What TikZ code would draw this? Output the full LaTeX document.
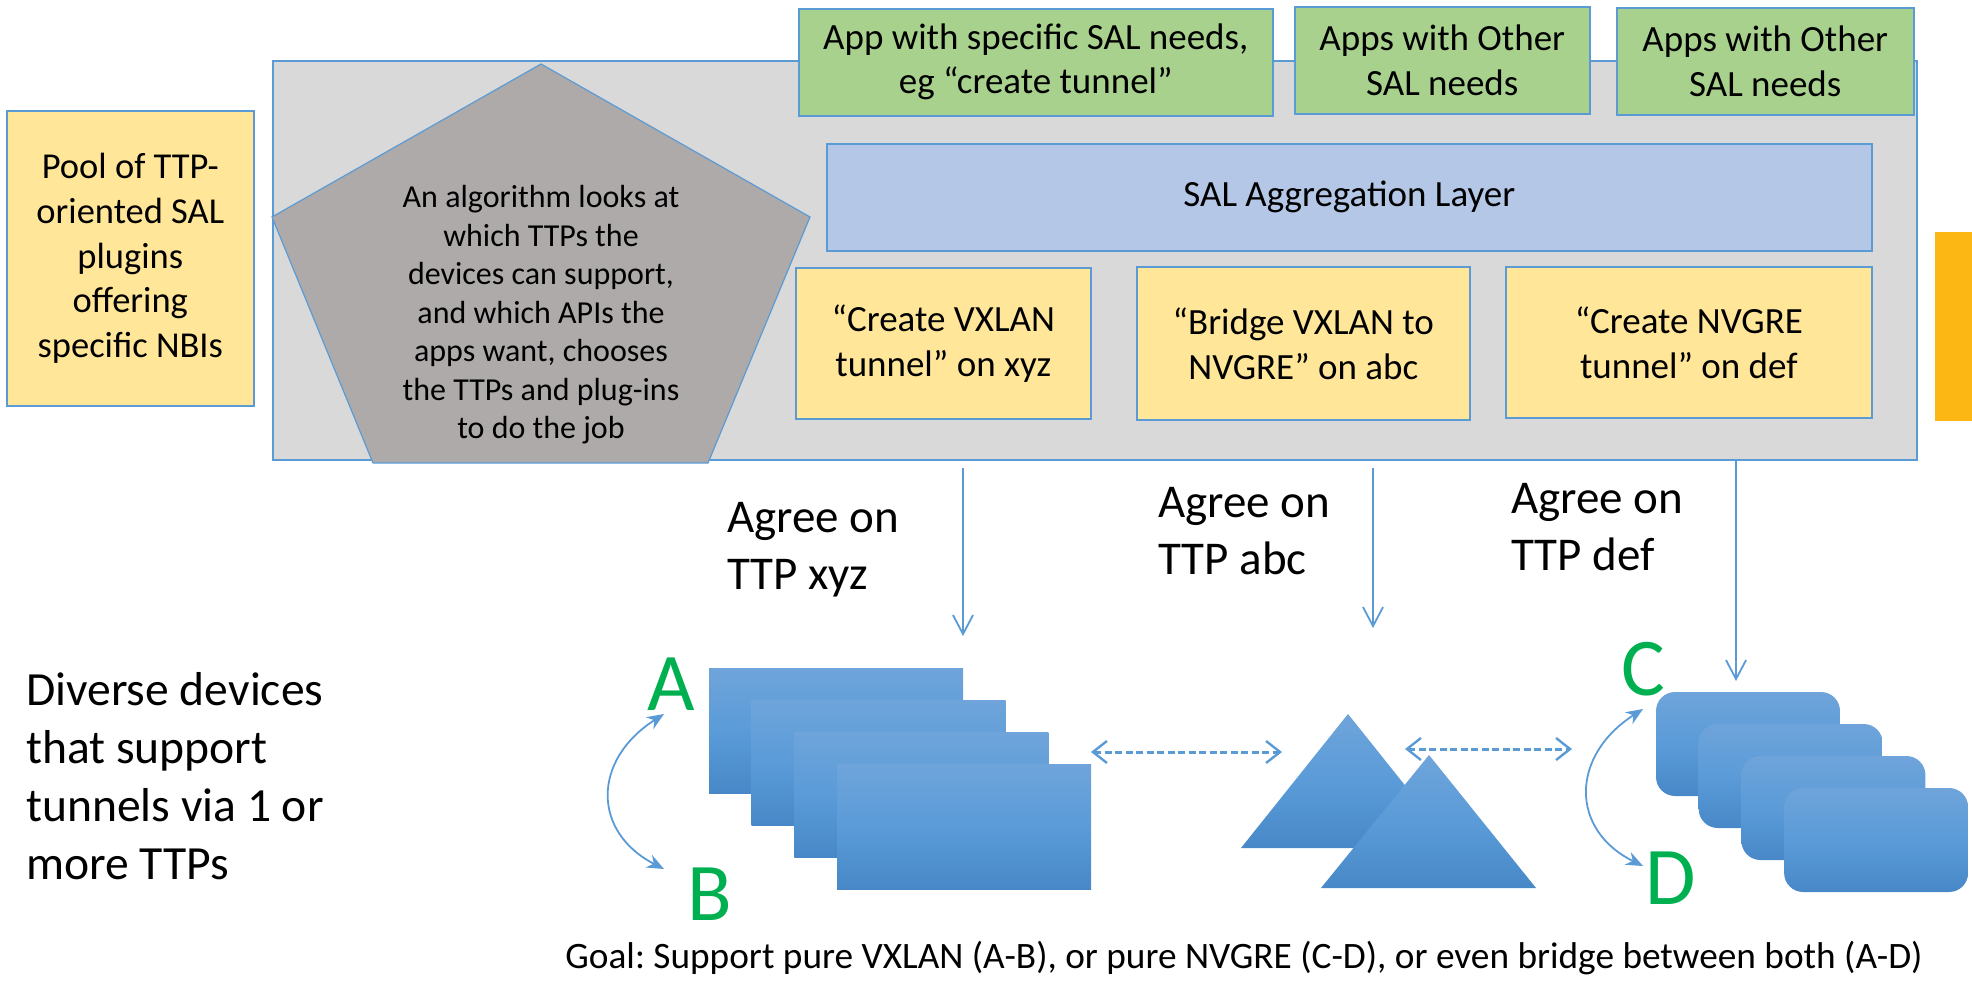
\documentclass[tikz,border=0pt]{standalone}
\usepackage{fontspec}
\setmainfont{Carlito}
\usetikzlibrary{arrows.meta}
\definecolor{edge}{HTML}{5B9BD5}
\definecolor{panel}{HTML}{D9D9D9}
\definecolor{penta}{HTML}{AEAAAA}
\definecolor{appgreen}{HTML}{A9D18E}
\definecolor{layerblue}{HTML}{B4C7E7}
\definecolor{pluginyellow}{HTML}{FFE699}
\definecolor{barorange}{HTML}{FDB714}
\definecolor{devtop}{HTML}{6FA4DA}
\definecolor{devmid}{HTML}{5A9BD8}
\definecolor{devbot}{HTML}{4888C8}
\definecolor{lettergreen}{HTML}{00B050}
\newcommand\setfs[2]{\fontsize{#1}{#2}\selectfont}
\begin{document}
\frenchspacing
\begin{tikzpicture}[x=1pt,y=-1pt,
  box/.style={draw=edge, line width=1.6pt, align=center, inner sep=0pt, anchor=north west},
  txt/.style={align=center, inner sep=0pt},
  device/.style={top color=devtop, bottom color=devbot, middle color=devmid, draw=none},
  drop/.style={draw=edge, line width=1.8pt, -{Straight Barb[length=19pt,width=20pt,line width=1.8pt]}},
  link/.style={draw=edge, line width=3pt, dash pattern=on 7pt off 3.5pt,
    {Straight Barb[length=14pt,width=22pt,line width=2.4pt]}-{Straight Barb[length=14pt,width=22pt,line width=2.4pt]}},
  swap/.style={draw=edge, line width=1.8pt, {Stealth[length=17pt,width=14pt]}-{Stealth[length=17pt,width=14pt]}},
  letter/.style={inner sep=0pt, text=lettergreen, font=\setfs{82}{90}},
  agree/.style={align=left, inner sep=0pt, anchor=west, font=\setfs{47}{57}}]
\useasboundingbox (0,0) rectangle (1972,981);

% controller panel
\node[box, fill=panel, minimum width=1644pt, minimum height=399pt] (panel) at (272,60) {};

% plugin pool on the left
\node[box, fill=pluginyellow, minimum width=247pt, minimum height=295pt, font=\setfs{36.5}{44.75}] (pool) at (6,110)
  {Pool of TTP-\\oriented SAL\\plugins\\offering\\specific NBIs};

% selection algorithm
\path[draw=edge, line width=1.2pt, fill=penta] (541,64) -- (810,217) -- (708,463) -- (373,463) -- (272,217) -- cycle;
\node[txt, font=\setfs{32}{38.5}] (algo) at (541,315)
  {An algorithm looks at\\which TTPs the\\devices can support,\\and which APIs the\\apps want, chooses\\the TTPs and plug-ins\\to do the job};

% applications
\node[box, fill=appgreen, minimum width=474pt, minimum height=107pt, font=\setfs{37}{44}] (app1) at (798,8)
  {App with specific SAL needs,\\eg “create tunnel”};
\node[box, fill=appgreen, minimum width=295pt, minimum height=107pt, font=\setfs{37}{45}] (app2) at (1294,6)
  {Apps with Other\\SAL needs};
\node[box, fill=appgreen, minimum width=297pt, minimum height=107pt, font=\setfs{37}{45}] (app3) at (1616,7)
  {Apps with Other\\SAL needs};

% aggregation layer
\node[box, fill=layerblue, minimum width=1045pt, minimum height=107pt, font=\setfs{37}{44}] (sal) at (826,143)
  {SAL Aggregation Layer};

% chosen plugins
\node[box, fill=pluginyellow, minimum width=295pt, minimum height=151pt, font=\setfs{37}{45}] (p1) at (795,267)
  {“Create VXLAN\\tunnel” on xyz};
\node[box, fill=pluginyellow, minimum width=333pt, minimum height=153pt, font=\setfs{37}{45}] (p2) at (1136,266)
  {“Bridge VXLAN to\\NVGRE” on abc};
\node[box, fill=pluginyellow, minimum width=366pt, minimum height=151pt, font=\setfs{37}{45}] (p3) at (1505,266)
  {“Create NVGRE\\tunnel” on def};

% orange side bar
\path[fill=barorange] (1935,232) rectangle (1972,421);

% TTP agreements
\coordinate (d1s) at (963,468);  \coordinate (d1e) at (963,636);
\coordinate (d2s) at (1373,468); \coordinate (d2e) at (1373,628);
\coordinate (d3s) at (1736,459); \coordinate (d3e) at (1736,681);
\draw[drop] (d1s) -- (d1e);
\draw[drop] (d2s) -- (d2e);
\draw[drop] (d3s) -- (d3e);
\node[agree] (ag1) at (727,550) {Agree on\\TTP xyz};
\node[agree] (ag2) at (1158,531) {Agree on\\TTP abc};
\node[agree] (ag3) at (1511,527) {Agree on\\TTP def};

% device family 1: rectangles
\foreach \i in {0,1,2,3} {
  \path[device] ({709+42.7*\i},{668+32*\i}) rectangle ++(254,125);
}
% device family 2: triangles
\path[device] (1348,714) -- (1455,848) -- (1241,848) -- cycle;
\path[device] (1429,755) -- (1536,888) -- (1321,888) -- cycle;
% device family 3: rounded boxes
\foreach \i in {0,1,2,3} {
  \path[device, rounded corners=19pt] ({1656+42.7*\i},{692+32*\i}) rectangle ++(184,104);
}

% interoperation between families
\coordinate (l1a) at (1091,752); \coordinate (l1b) at (1282,752);
\coordinate (l2a) at (1405,749); \coordinate (l2b) at (1572,749);
\draw[link] (l1a) -- (l1b);
\draw[link] (l2a) -- (l2b);

% endpoint letters
\node[letter] (A) at (671,684) {A};
\node[letter] (B) at (710,894) {B};
\node[letter] (C) at (1643,669) {C};
\node[letter] (D) at (1671,878) {D};
\coordinate (ab1) at (664,714); \coordinate (ab2) at (664,869);
\coordinate (cd1) at (1643,709); \coordinate (cd2) at (1643,866);
\draw[swap] (ab1) .. controls (592,760) and (592,832) .. (ab2);
\draw[swap] (cd1) .. controls (1570,756) and (1570,830) .. (cd2);

% captions
\node[align=left, inner sep=0pt, anchor=west, font=\setfs{47.6}{58}] (devs) at (26,776)
  {Diverse devices\\that support\\tunnels via 1 or\\more TTPs};
\node[inner sep=0pt, anchor=base, font=\setfs{37.3}{44}] (goal) at (1244,968)
  {Goal: Support pure VXLAN (A-B), or pure NVGRE (C-D), or even bridge between both (A-D)};
\end{tikzpicture}
\end{document}
